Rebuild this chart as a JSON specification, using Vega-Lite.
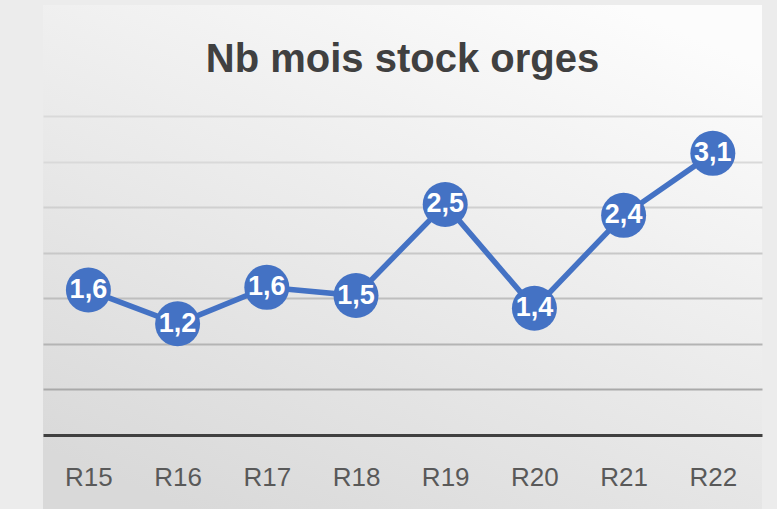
{
  "$schema": "https://vega.github.io/schema/vega-lite/v6.json",
  "autosize": {"type": "none"},
  "width": 719,
  "height": 504,
  "padding": {"left": 43, "top": 5, "right": 15, "bottom": 0},
  "background": "#ececec",
  "title": {
    "text": "Nb mois stock orges",
    "font": "Liberation Sans",
    "fontWeight": "bold",
    "fontSize": 40,
    "color": "#404040",
    "anchor": "middle",
    "frame": "group",
    "baseline": "alphabetic",
    "offset": -107
  },
  "config": {
    "locale": {
      "number": {"decimal": ",", "thousands": " ", "grouping": [3], "currency": ["", " €"]}
    },
    "view": {
      "stroke": null,
      "fill": {
        "gradient": "linear",
        "x1": 0.8, "y1": 0, "x2": 0.2, "y2": 1,
        "stops": [
          {"offset": 0, "color": "#fcfcfc"},
          {"offset": 1, "color": "#d9d9d9"}
        ]
      }
    }
  },
  "data": {
    "values": [
      {"round": "R15", "value": 1.59},
      {"round": "R16", "value": 1.22},
      {"round": "R17", "value": 1.62},
      {"round": "R18", "value": 1.53},
      {"round": "R19", "value": 2.53},
      {"round": "R20", "value": 1.39},
      {"round": "R21", "value": 2.41},
      {"round": "R22", "value": 3.09}
    ]
  },
  "encoding": {
    "x": {
      "field": "round",
      "type": "nominal",
      "sort": null,
      "scale": {"type": "point", "padding": 0.53, "align": 0.48},
      "axis": {
        "orient": "bottom",
        "offset": -74,
        "title": null,
        "ticks": false,
        "tickSize": 0,
        "labelAngle": 0,
        "labelPadding": 50,
        "labelBaseline": "alphabetic",
        "labelFont": "Liberation Sans",
        "labelFontSize": 26,
        "labelColor": "#595959",
        "domainColor": "#404040",
        "domainWidth": 3,
        "grid": false
      }
    },
    "y": {
      "field": "value",
      "type": "quantitative",
      "scale": {"domain": [-0.812, 4.718], "nice": false, "zero": false},
      "axis": {
        "title": null,
        "values": [0.5, 1, 1.5, 2, 2.5, 3, 3.5],
        "labels": false,
        "ticks": false,
        "domain": false,
        "grid": true,
        "gridWidth": 2,
        "gridColor": {
          "condition": [
            {"test": "datum.value <= 0.5", "value": "#a9a9a9"},
            {"test": "datum.value <= 1", "value": "#b4b4b4"},
            {"test": "datum.value <= 1.5", "value": "#bebebe"},
            {"test": "datum.value <= 2", "value": "#c8c8c8"},
            {"test": "datum.value <= 2.5", "value": "#d0d0d0"}
          ],
          "value": "#d9d9d9"
        }
      }
    }
  },
  "layer": [
    {
      "mark": {"type": "line", "color": "#4472C4", "strokeWidth": 5.5}
    },
    {
      "mark": {"type": "point", "filled": true, "size": 2025, "color": "#4472C4", "opacity": 1}
    },
    {
      "mark": {
        "type": "text",
        "color": "#ffffff",
        "font": "Liberation Sans",
        "fontWeight": "bold",
        "fontSize": 27,
        "align": "center",
        "baseline": "middle"
      },
      "encoding": {
        "text": {"field": "value", "type": "quantitative", "format": ".1f"}
      }
    }
  ]
}
